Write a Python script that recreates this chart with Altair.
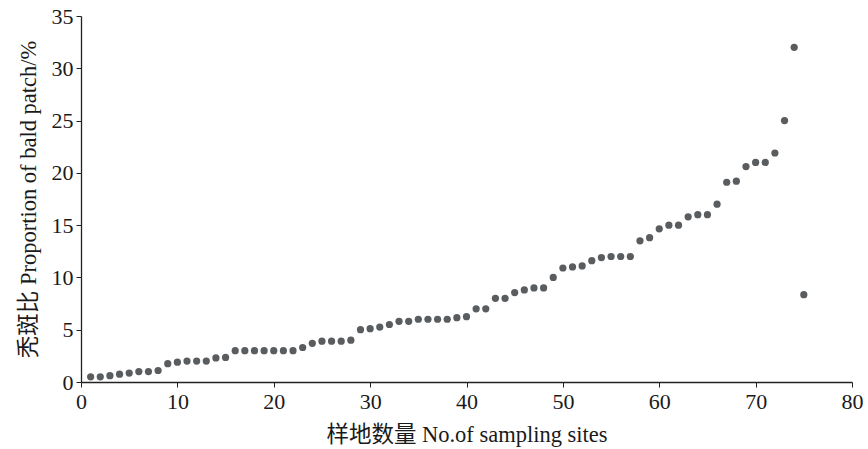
import altair as alt
import pandas as pd

sites = list(range(1, 76))
proportion = [
    0.5, 0.5, 0.6, 0.75, 0.85, 1.0, 1.0, 1.1, 1.75, 1.9,
    2.0, 2.0, 2.0, 2.3, 2.35, 3.0, 3.0, 3.0, 3.0, 3.0,
    3.0, 3.0, 3.3, 3.7, 3.9, 3.9, 3.9, 4.0, 5.0, 5.1,
    5.25, 5.5, 5.8, 5.8, 6.0, 6.0, 6.0, 6.0, 6.15, 6.25,
    7.0, 7.0, 8.0, 8.0, 8.55, 8.8, 9.0, 9.0, 10.0, 10.9,
    11.0, 11.1, 11.6, 11.9, 12.0, 12.0, 12.0, 13.5, 13.8, 14.65,
    15.0, 15.0, 15.8, 16.0, 16.0, 17.0, 19.1, 19.2, 20.6, 21.0,
    21.0, 21.9, 25.0, 32.0, 8.35,
]
x_ticks = [0, 10, 20, 30, 40, 50, 60, 70, 80]
y_ticks = [0, 5, 10, 15, 20, 25, 30, 35]

df = pd.DataFrame({"site": sites, "prop": proportion})

FONT = "Liberation Serif, Noto Sans CJK SC"

chart = alt.Chart(df).mark_circle(size=52, color="#5a5d5f", opacity=1).encode(
    x=alt.X(
        "site:Q",
        scale=alt.Scale(domain=[0, 80], nice=False),
        axis=alt.Axis(
            values=x_ticks,
            title="样地数量 No.of sampling sites",
            titleFont=FONT, titleFontSize=22.5, titleFontWeight="normal",
            titleColor="#1a1a1a", titlePadding=11,
            labelFont=FONT, labelFontSize=22, labelColor="#1a1a1a",
            labelPadding=4, tickSize=5, tickColor="#222", domainColor="#222",
            domainWidth=1.3, grid=False, labelFlush=False,
        ),
    ),
    y=alt.Y(
        "prop:Q",
        scale=alt.Scale(domain=[0, 35], nice=False),
        axis=alt.Axis(
            values=y_ticks,
            title="秃斑比 Proportion of bald patch/%",
            titleFont=FONT, titleFontSize=22.5, titleFontWeight="normal",
            titleColor="#1a1a1a", titlePadding=11,
            labelFont=FONT, labelFontSize=22, labelColor="#1a1a1a",
            labelPadding=3, tickSize=5, tickColor="#222", domainColor="#222",
            domainWidth=1.3, grid=False, labelFlush=False,
        ),
    ),
).properties(
    width=771,
    height=366,
    padding={"left": 81, "top": 16, "right": 16, "bottom": 67},
    autosize="none",
).configure_view(stroke=None)

chart.save("out.html", embed_options={"renderer": "svg", "actions": False})
